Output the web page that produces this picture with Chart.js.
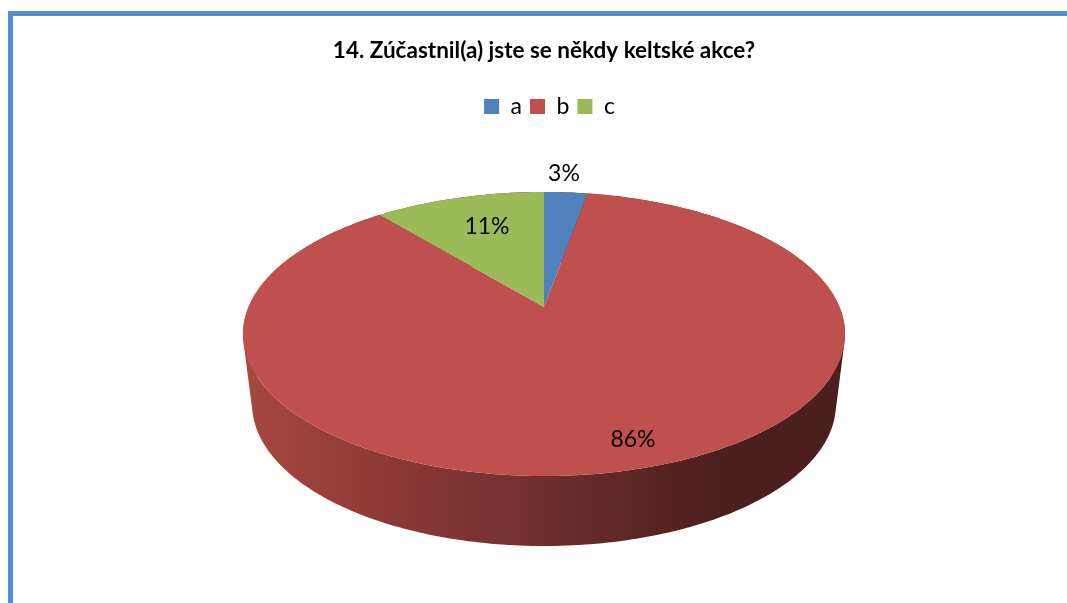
<!DOCTYPE html>
<html>
<head>
<meta charset="utf-8">
<style>
  html, body { margin: 0; padding: 0; background: #fff; overflow: hidden; }
  #frame { position: absolute; left: 8px; top: 11px; right: 0; bottom: 0; border-left: 5px solid #558ED5; border-top: 5px solid #558ED5; }
  #pie { position: absolute; left: 0; top: 0; }
</style>
</head>
<body>
<div id="frame"></div>
<canvas id="pie" width="1067" height="603"></canvas>
<script src="https://cdn.jsdelivr.net/npm/chart.js@4/dist/chart.umd.js"></script>
<script>
var categories = ['a', 'b', 'c'];
var shares = [2.8, 86.2, 11];
var sliceColors = ['#4F81BD', '#C0504D', '#9BBB59'];
var chartTitle = '14. Zúčastnil(a) jste se někdy keltské akce?';

// label position relative to the pie centre, same order as categories
var labelOffsets = [[20, -133], [89, 133], [-57, -80]];

// perspective of the tilted disc
var TILT = 0.19, SCALE_X = 295.5 / 150, SCALE_Y = 136.9 / 150;
var DEPTH = 70, FOOT = 0.97;
var LEGEND_SHIFT = 5.5;

function project(arc, angle, r) {
  var u = Math.cos(angle) * r, v = -Math.sin(angle) * r;
  var w = 1 + TILT * v;
  return {
    x: arc.x + arc.outerRadius * SCALE_X * u / w,
    y: arc.y - arc.outerRadius * SCALE_Y * v / w
  };
}

function foot(arc, p) {
  return { x: arc.x + (p.x - arc.x) * FOOT, y: p.y + DEPTH };
}

// adds a quad to the current path, always wound the same way so the fill has no holes
function addQuad(ctx, pts) {
  var area = 0;
  for (var i = 0; i < pts.length; i++) {
    var a = pts[i], b = pts[(i + 1) % pts.length];
    area += a.x * b.y - b.x * a.y;
  }
  if (area < 0) pts.reverse();
  ctx.moveTo(pts[0].x, pts[0].y);
  ctx.lineTo(pts[1].x, pts[1].y);
  ctx.lineTo(pts[2].x, pts[2].y);
  ctx.lineTo(pts[3].x, pts[3].y);
  ctx.closePath();
}

var pie3d = {
  id: 'pie3d',
  afterLayout: function (chart) {
    // the legend sits a little right of the title in the original
    chart.legend.left += LEGEND_SHIFT;
    chart.legend.right += LEGEND_SHIFT;
  },
  beforeDatasetDraw: function (chart, args) {
    var ctx = chart.ctx;
    var arcs = args.meta.data;
    var first = arcs[0];

    // side wall, only the front is left visible
    var shade = ctx.createLinearGradient(first.x - 300, 0, first.x + 300, 0);
    shade.addColorStop(0, '#A8483F');
    shade.addColorStop(0.22, '#8F3A37');
    shade.addColorStop(0.5, '#6E2F2D');
    shade.addColorStop(0.72, '#54221F');
    shade.addColorStop(0.8, '#4B1F1E');
    shade.addColorStop(1, '#4B1F1E');
    ctx.save();
    ctx.fillStyle = shade;
    ctx.beginPath();
    arcs.forEach(function (arc) {
      var steps = Math.ceil((arc.endAngle - arc.startAngle) * 60);
      for (var i = 0; i < steps; i++) {
        var a0 = arc.startAngle + (arc.endAngle - arc.startAngle) * i / steps;
        var a1 = arc.startAngle + (arc.endAngle - arc.startAngle) * (i + 1) / steps;
        var p0 = project(arc, a0, 1), p1 = project(arc, a1, 1);
        addQuad(ctx, [p0, p1, foot(arc, p1), foot(arc, p0)]);
      }
    });
    ctx.fill();

    // top face
    arcs.forEach(function (arc) {
      var steps = Math.ceil((arc.endAngle - arc.startAngle) * 60);
      ctx.beginPath();
      ctx.moveTo(arc.x, arc.y);
      for (var i = 0; i <= steps; i++) {
        var p = project(arc, arc.startAngle + (arc.endAngle - arc.startAngle) * i / steps, 1);
        ctx.lineTo(p.x, p.y);
      }
      ctx.closePath();
      ctx.fillStyle = arc.options.backgroundColor;
      ctx.fill();
    });
    ctx.restore();
    return false;
  },
  afterDatasetsDraw: function (chart) {
    var ctx = chart.ctx;
    var arcs = chart.getDatasetMeta(0).data;
    ctx.save();
    ctx.font = '23px Lato';
    ctx.fillStyle = '#000';
    ctx.textAlign = 'center';
    ctx.textBaseline = 'middle';
    arcs.forEach(function (arc, i) {
      ctx.fillText(Math.round(shares[i]) + '%', arc.x + labelOffsets[i][0], arc.y + labelOffsets[i][1]);
    });
    ctx.restore();
  }
};

var ctx = document.getElementById('pie').getContext('2d');
var chart = new Chart(ctx, {
  type: 'pie',
  plugins: [pie3d],
  data: {
    labels: categories,
    datasets: [{
      data: shares,
      backgroundColor: sliceColors,
      borderWidth: 0,
      radius: 150
    }]
  },
  options: {
    responsive: false,
    animation: false,
    layout: { padding: { left: 21, bottom: 117 } },
    plugins: {
      tooltip: { enabled: false },
      title: {
        display: true,
        text: chartTitle,
        color: '#000',
        font: { family: 'Lato', size: 22.5, weight: 'bold' },
        padding: { top: 37, bottom: 23 }
      },
      legend: {
        position: 'top',
        labels: {
          color: '#000',
          font: { family: 'Lato', size: 23 },
          boxWidth: 15,
          boxHeight: 15,
          padding: 8
        }
      }
    }
  }
});
</script>
</body>
</html>
